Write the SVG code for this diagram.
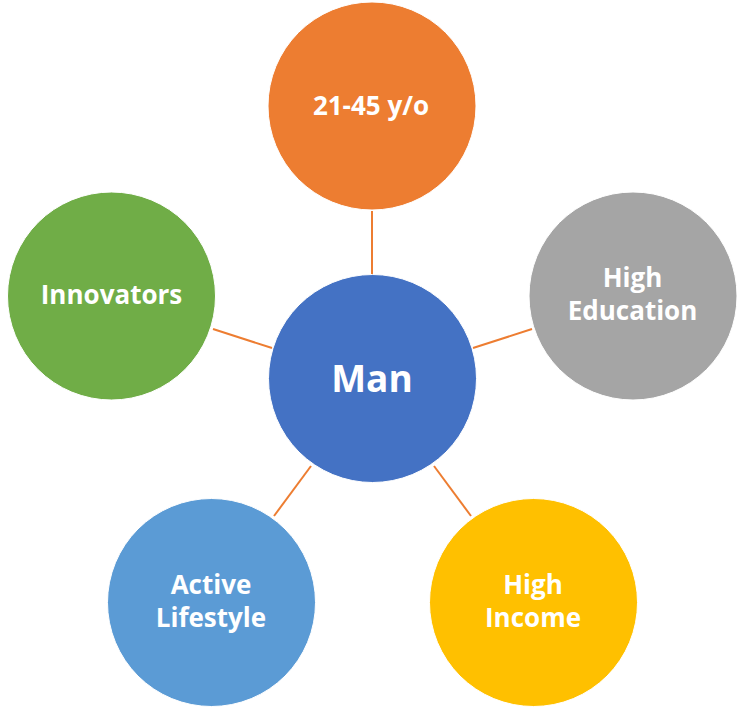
<svg xmlns="http://www.w3.org/2000/svg" width="740" height="709" viewBox="0 0 740 709">
<style>
.c{stroke:#ffffff;stroke-width:1}
.t{font-family:"Open Sans","Noto Sans","Liberation Sans",sans-serif;font-weight:bold;font-size:26px;fill:#ffffff;text-anchor:middle}
.big{font-size:37px}
.ln{stroke:#ED7D31;stroke-width:2;fill:none}
</style>
<rect width="740" height="709" fill="#ffffff"/>
<g id="connectors">
<line class="ln" x1="372" y1="211" x2="372" y2="275"/>
<line class="ln" x1="213" y1="329" x2="272" y2="348"/>
<line class="ln" x1="473" y1="348" x2="532" y2="329"/>
<line class="ln" x1="274" y1="516" x2="311" y2="466"/>
<line class="ln" x1="434" y1="466" x2="471" y2="516"/>
</g>
<g id="man">
<circle class="c" cx="372.5" cy="378.5" r="104" fill="#4472C4"/>
<text class="t big" x="372" y="392">Man</text>
</g>
<g id="age">
<circle class="c" cx="372" cy="106" r="104" fill="#ED7D31"/>
<text class="t" x="371" y="115">21-45 y/o</text>
</g>
<g id="education">
<circle class="c" cx="633" cy="296" r="104" fill="#A5A5A5"/>
<text class="t" x="632.5" y="287">High</text>
<text class="t" x="632.5" y="320">Education</text>
</g>
<g id="innovators">
<circle class="c" cx="111.5" cy="296" r="104" fill="#70AD47"/>
<text class="t" x="111.5" y="304">Innovators</text>
</g>
<g id="lifestyle">
<circle class="c" cx="211.5" cy="602.5" r="104" fill="#5B9BD5"/>
<text class="t" x="211" y="594">Active</text>
<text class="t" x="211" y="627">Lifestyle</text>
</g>
<g id="income">
<circle class="c" cx="533.5" cy="602.5" r="104" fill="#FFC000"/>
<text class="t" x="533" y="594">High</text>
<text class="t" x="533" y="627">Income</text>
</g>
</svg>
